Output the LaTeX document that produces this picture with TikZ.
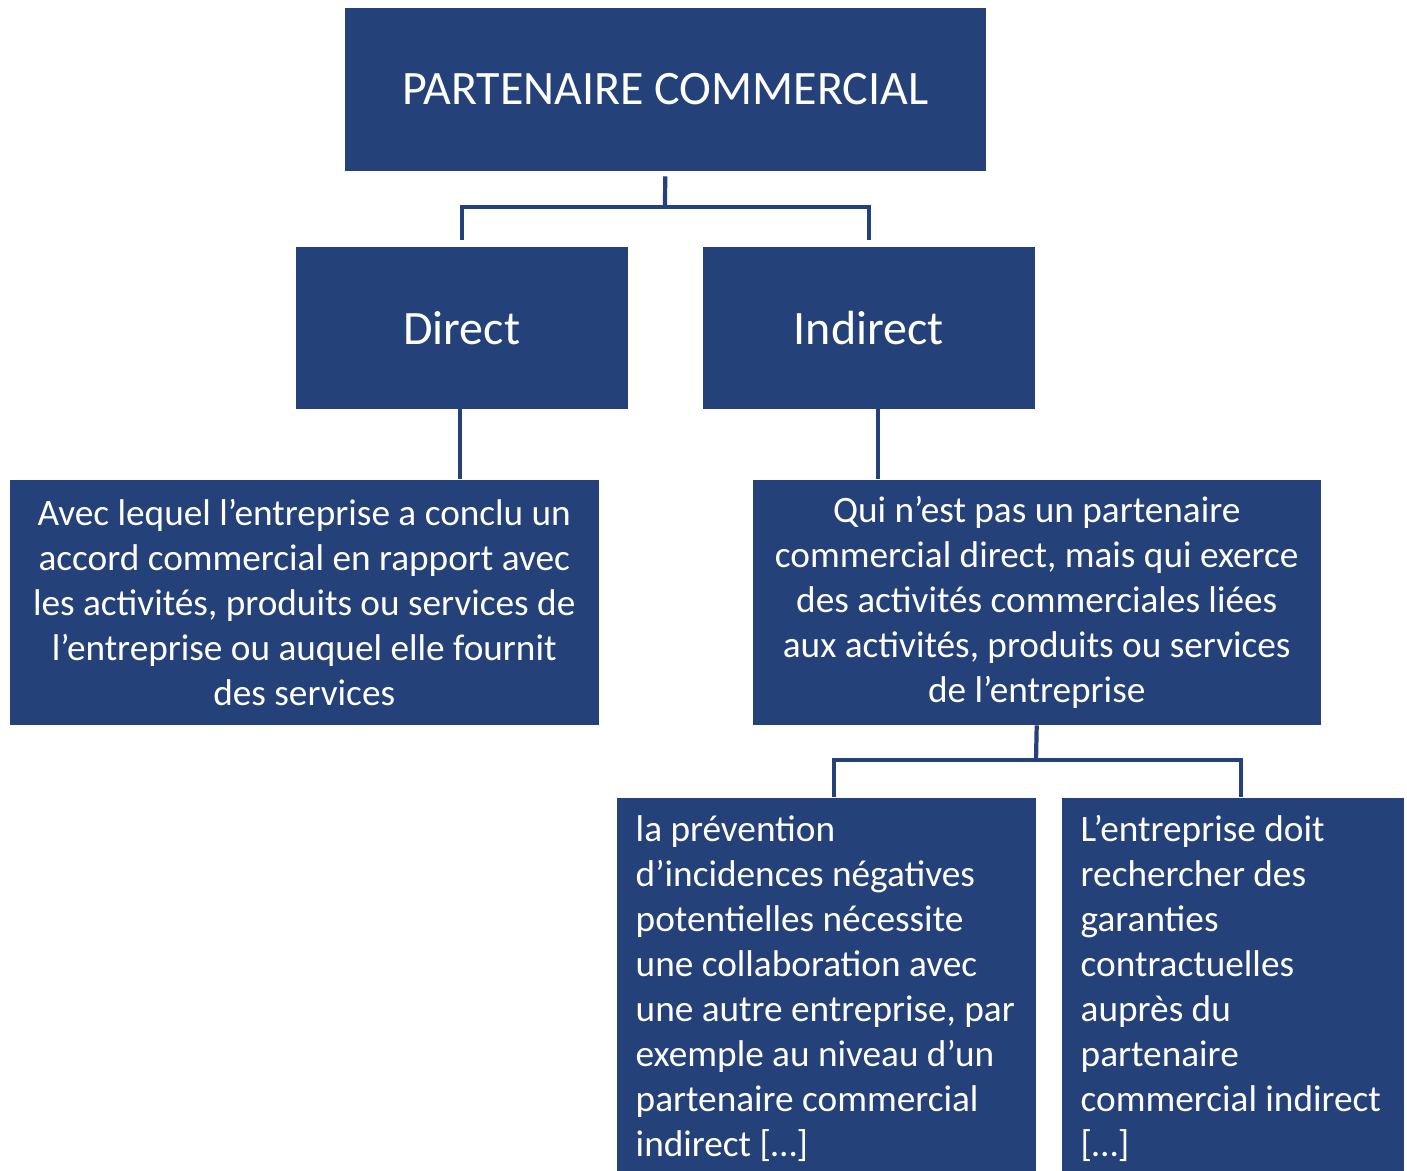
\documentclass[tikz,border=0pt]{standalone}
\usepackage{fontspec}
\setmainfont{Carlito}
\definecolor{boxblue}{RGB}{37,65,122}
\tikzset{
  bluebox/.style={fill=boxblue, text=white, inner sep=0pt, anchor=north west, align=center},
  titlefont/.style={font=\fontsize{13.65}{16}\selectfont},
  bodyfont/.style={font=\fontsize{10.6}{12.8}\selectfont},
  link/.style={draw=boxblue, line width=1.2pt}
}
\begin{document}
\begin{tikzpicture}
\useasboundingbox (0,0) rectangle (14.07,-11.70);
\node[bluebox, titlefont, minimum width=6.41cm, minimum height=1.63cm] (partner) at (3.44,-0.07) {PARTENAIRE COMMERCIAL};
\node[bluebox, titlefont, minimum width=3.32cm, minimum height=1.62cm] (direct) at (2.95,-2.46) {Direct};
\node[bluebox, titlefont, minimum width=3.32cm, minimum height=1.62cm] (indirect) at (7.02,-2.46) {Indirect};
\node[bluebox, bodyfont, minimum width=5.89cm, minimum height=2.45cm] (directdef) at (0.09,-4.79)
  {Avec lequel l’entreprise a conclu un\\ accord commercial en rapport avec\\ les activités, produits ou services de\\ l’entreprise ou auquel elle fournit\\ des services};
\node[bluebox, bodyfont, minimum width=5.68cm, minimum height=2.45cm] (indirectdef) at (7.52,-4.79)
  {Qui n’est pas un partenaire\\ commercial direct, mais qui exerce\\ des activités commerciales liées\\ aux activités, produits ou services\\ de l’entreprise};
\node[bluebox, bodyfont, align=flush left, inner xsep=0.19cm, text width=3.81cm, minimum height=3.81cm] (prevention) at (6.16,-7.97)
  {la prévention\\ d’incidences négatives\\ potentielles nécessite\\ une collaboration avec\\ une autre entreprise, par\\ exemple au niveau d’un\\ partenaire commercial\\ indirect {[}…{]}};
\node[bluebox, bodyfont, align=flush left, inner xsep=0.19cm, text width=3.04cm, minimum height=3.81cm] (garanties) at (10.61,-7.97)
  {L’entreprise doit\\ rechercher des\\ garanties\\ contractuelles\\ auprès du\\ partenaire\\ commercial indirect\\ {[}…{]}};
% connectors
\coordinate (split) at (6.65,-2.07);
\draw[link] ([yshift=-0.05cm]partner.south) -- (split);
\draw[link] (split) -| ([yshift=0.06cm]direct.north);
\draw[link] (split) -| ([yshift=0.06cm]indirect.north);
\draw[link] ([xshift=-0.02cm]direct.south) -- ([xshift=-0.02cm]direct.south |- directdef.north);
\draw[link] ([xshift=0.09cm]indirect.south) -- ([xshift=0.09cm]indirect.south |- indirectdef.north);
\coordinate (split2) at (10.36,-7.60);
\draw[link] (indirectdef.south) -- (split2);
\draw[link] (split2) -| ([xshift=0.08cm]prevention.north);
\draw[link] (split2) -| ([xshift=0.08cm]garanties.north);
\end{tikzpicture}
\end{document}
